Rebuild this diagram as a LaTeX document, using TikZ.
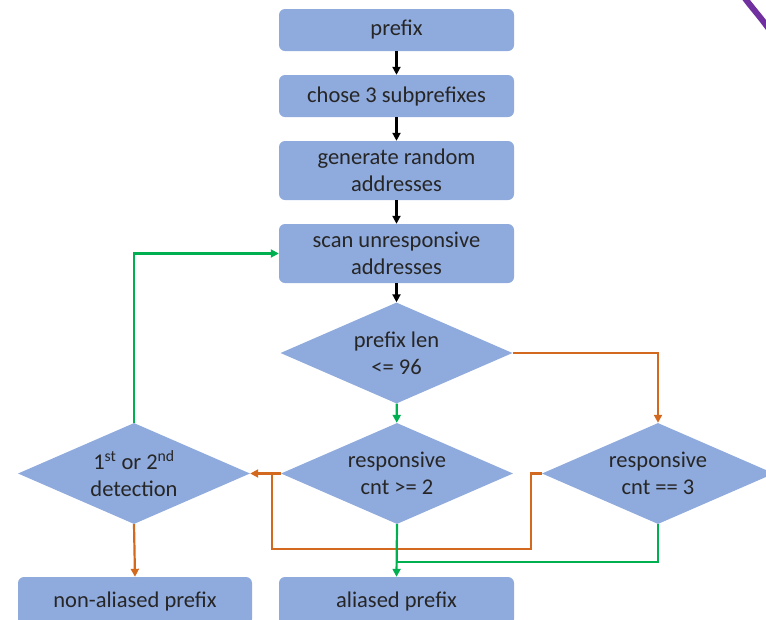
\documentclass[tikz,border=0pt]{standalone}
\usepackage{fontspec}
\setmainfont{Carlito}
\usetikzlibrary{shapes.geometric,arrows.meta}
\definecolor{boxblue}{HTML}{8FAADC}
\definecolor{txt}{HTML}{262626}
\definecolor{gr}{HTML}{00B050}
\definecolor{org}{HTML}{D2691E}
\definecolor{purp}{HTML}{7030A0}
\begin{document}
\begin{tikzpicture}[x=1pt,y=-1pt,
  box/.style={rectangle, rounded corners=6pt, fill=boxblue, minimum width=235pt,
    text=txt, align=center, font=\fontsize{22.5}{27}\selectfont, inner sep=0pt},
  dec/.style={diamond, fill=boxblue, minimum width=232pt, minimum height=101pt,
    aspect=2.32, inner sep=0pt, text=txt, align=center, font=\fontsize{22.5}{27}\selectfont},
  conn/.style={line width=2.2pt, -{Triangle[length=8pt,width=8pt]}},
  seg/.style={line width=2.2pt},
]
\useasboundingbox (0,0) rectangle (766,619);
\node[box, minimum height=42pt] (prefix) at (396.5,30) {prefix};
\node[box, minimum height=42pt] (chose) at (396.5,96) {chose 3 subprefixes};
\node[box, minimum height=59pt] (gen) at (396.5,170.5) {generate random\\addresses};
\node[box, minimum height=59pt] (scan) at (396.5,253.5) {scan unresponsive\\addresses};
\node[dec] (len) at (396.5,353) {prefix len\\<= 96};
\node[dec] (resp2) at (397,473.5) {responsive\\cnt >= 2};
\node[dec] (det) at (134,473.5) {1\textsuperscript{st} or 2\textsuperscript{nd}\\detection};
\node[dec] (cnt3) at (658,473.5) {responsive\\cnt == 3};
\node[box, minimum width=234pt, minimum height=48pt] (non) at (135,601) {non-aliased prefix};
\node[box, minimum height=48pt] (ali) at (396.5,601) {aliased prefix};

\coordinate (o1) at (531,473.5);
\coordinate (o2) at (531,549);
\coordinate (o3) at (272,549);
\coordinate (o4) at (272,473.5);
\coordinate (g1) at (658,562);
\coordinate (g2) at (397,562);
\coordinate (g3) at (134,253.5);
\coordinate (r1) at (658,353);

\draw[conn, black] (prefix) -- (chose);
\draw[conn, black] (chose) -- (gen);
\draw[conn, black] (gen) -- (scan);
\draw[conn, black] (scan) -- (len);
\draw[conn, gr] (len) -- (resp2);
\draw[conn, org] (len.east) -- (r1) -- (cnt3.north);
\draw[conn, org] (resp2.west) -- (det.east);
\draw[seg, org] (cnt3.west) -- (o1) -- (o2) -- (o3) -- (o4);
\draw[conn, gr] (resp2.south) -- (ali.north);
\draw[seg, gr] (cnt3.south) -- (g1) -- (g2);
\draw[conn, gr] (det.north) -- (g3) -- (scan.west);
\draw[conn, org] (det.south) -- (non.north);

\draw[purp, line width=6pt] (744,-3) .. controls (752,8) and (758,14) .. (769,29);
\end{tikzpicture}
\end{document}
